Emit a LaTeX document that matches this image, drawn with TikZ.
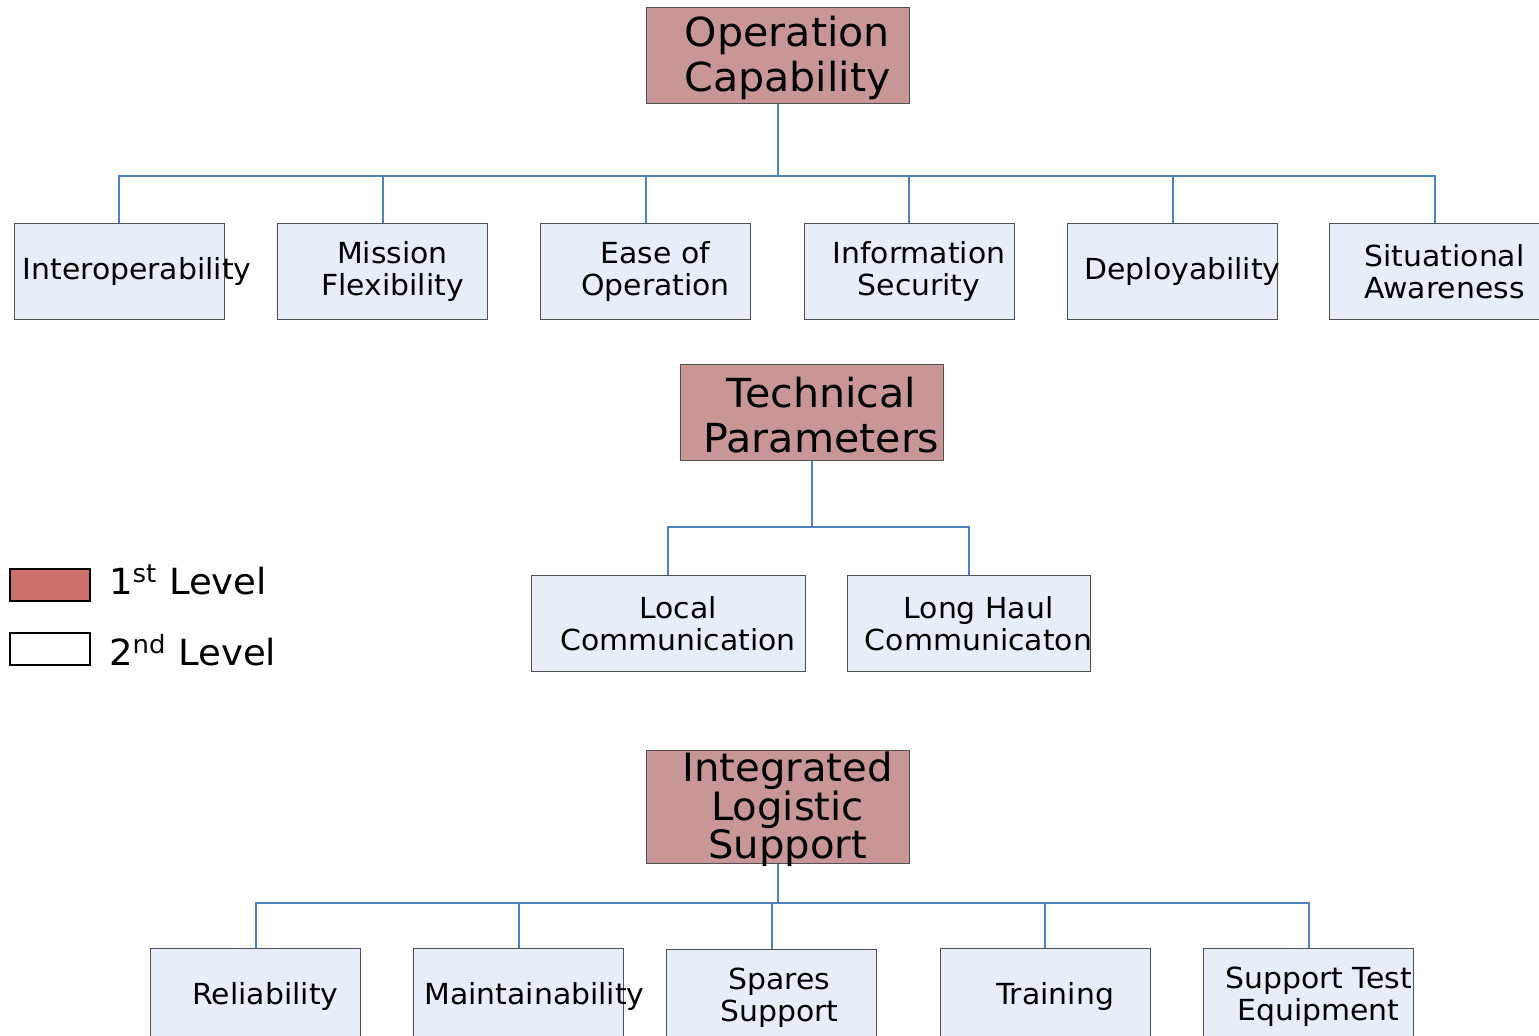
\documentclass[tikz,border=0pt]{standalone}
\usepackage{fontspec}
\setmainfont[FakeStretch=1.03]{DejaVu Sans}
\usepackage{xcolor}
\definecolor{rootred}{RGB}{200,150,150}
\definecolor{keyred}{RGB}{205,112,110}
\definecolor{leafblue}{RGB}{232,238,248}
\definecolor{linkblue}{RGB}{79,129,189}
\definecolor{edgegray}{RGB}{80,80,80}

\begin{document}
\begin{tikzpicture}[x=0.5pt, y=-0.5pt,
  top/.style={rectangle, draw=edgegray, line width=0.5pt, fill=rootred, minimum width=131.5pt, minimum height=48pt, inner sep=0pt},
  leaf/.style={rectangle, draw=edgegray, line width=0.5pt, fill=leafblue, minimum width=105pt, minimum height=48pt, inner sep=0pt},
  toptext/.style={align=center, font=\fontsize{20}{22.5}\selectfont, xshift=5pt, yshift=-1pt},
  leaftext/.style={align=center, font=\fontsize{14.5}{16}\selectfont, xshift=5pt},
  link/.style={draw=linkblue, line width=1pt},
  key/.style={rectangle, draw=black, line width=1pt, minimum width=40pt, minimum height=16pt, inner sep=0pt},
  keytext/.style={anchor=west, font=\fontsize{18}{20}\selectfont}
]
\useasboundingbox (0,0) rectangle (1539,1036);

% operation capability
\node[top, label={[toptext]center:{Operation\\Capability}}] (opcap) at (777.5,55.5) {};
\node[leaf, label={[leaftext, xshift=4pt]center:Interoperability}] (interop) at (119,272) {};
\node[leaf, label={[leaftext]center:{Mission\\Flexibility}}] (mission) at (382.5,272) {};
\node[leaf, label={[leaftext]center:{Ease of\\Operation}}] (ease) at (645.5,272) {};
\node[leaf, label={[leaftext]center:{Information\\Security}}] (infosec) at (909,272) {};
\node[leaf, label={[leaftext]center:Deployability}] (deploy) at (1172.5,272) {};
\node[leaf, label={[leaftext]center:{Situational\\Awareness}}] (aware) at (1434.5,272) {};
\coordinate (bus1) at (0,176);
\foreach \c in {interop, mission, ease, infosec, deploy, aware}
  \draw[link] (opcap.south) -- (opcap.south |- bus1) -| (\c.north);

% technical parameters
\node[top, label={[toptext]center:{Technical\\Parameters}}] (tech) at (811.5,413) {};
\node[leaf, minimum width=137pt, label={[leaftext]center:{Local\\Communication}}] (localcom) at (668,624) {};
\node[leaf, minimum width=121.5pt, label={[leaftext]center:{Long Haul\\Communicaton}}] (longhaul) at (968.5,624) {};
\coordinate (bus2) at (0,527);
\foreach \c in {localcom, longhaul}
  \draw[link] (tech.south) -- (tech.south |- bus2) -| (\c.north);

% integrated logistic support
\node[top, minimum height=56.5pt, label={[toptext, font=\fontsize{19.5}{19.25}\selectfont]center:{Integrated\\Logistic\\Support}}] (ils) at (777.5,807.5) {};
\node[leaf, label={[leaftext]center:Reliability}] (reliab) at (255.5,997) {};
\node[leaf, label={[leaftext, xshift=3pt]center:Maintainability}] (maintain) at (518.5,997) {};
\node[leaf, label={[leaftext, xshift=-1pt]center:{Spares\\Support}}] (spares) at (771.5,998) {};
\node[leaf, label={[leaftext]center:Training}] (training) at (1045,997) {};
\node[leaf, label={[leaftext]center:{Support Test\\Equipment}}] (supptest) at (1308.5,997) {};
\coordinate (bus3) at (0,903);
\foreach \c in {reliab, maintain, spares, training, supptest}
  \draw[link] (ils.south) -- (ils.south |- bus3) -| (\c.north);

% legend
\node[key, fill=keyred] (key1) at (50,585) {};
\node[key, fill=white] (key2) at (50,649) {};
\node[keytext] (key1txt) at (102,580) {1\textsuperscript{st} Level};
\node[keytext] (key2txt) at (102,650) {2\textsuperscript{nd} Level};
\end{tikzpicture}
\end{document}
